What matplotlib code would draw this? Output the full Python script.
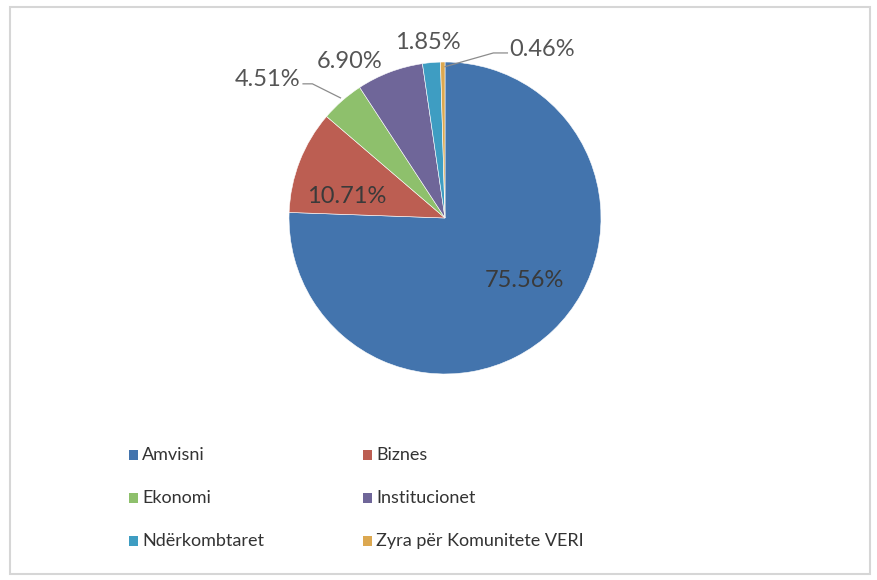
import matplotlib.pyplot as plt
from matplotlib.patches import Rectangle

plt.rcParams["font.family"] = ["Lato", "DejaVu Sans"]

categories = ["Amvisni", "Biznes", "Ekonomi", "Institucionet",
              "Ndërkombtaret", "Zyra për Komunitete VERI"]
shares = [75.56, 10.71, 4.51, 6.90, 1.85, 0.46]
colors = ["#4374AD", "#BC5E52", "#8EC06C", "#6F6699", "#3E9DC2", "#DCA850"]

# label placement (pie data coords), leader lines for two small slices
label_pos = [(0.51, -0.40), (-0.63, 0.135), (-1.14, 0.89),
             (-0.61, 1.006), (-0.11, 1.128), (0.62, 1.083)]
leaders = {2: [(-0.91, 0.86), (-0.85, 0.86), (-0.67, 0.77)],
           5: [(0.40, 1.058), (0.31, 1.058), (0.0, 0.97)]}

W, H = 877, 580
fig = plt.figure(figsize=(W / 100, H / 100), dpi=100)

# outer frame
fig.patches.append(Rectangle((10 / W, 6 / H), 860 / W, 567 / H,
                             transform=fig.transFigure, fill=False,
                             edgecolor="#d6d6d6", lw=1.5))

cx, cy, r = 445, 218, 156
ax = fig.add_axes([(cx - r) / W, (H - cy - r) / H, 2 * r / W, 2 * r / H])
ax.pie(shares, colors=colors, startangle=90, counterclock=False,
       wedgeprops=dict(edgecolor="white", linewidth=0.4))
ax.set_xlim(-1, 1)
ax.set_ylim(-1, 1)
ax.set_aspect("equal")
ax.axis("off")

for i, (val, (x, y)) in enumerate(zip(shares, label_pos)):
    col = "#3a3a3a" if i < 2 else "#555555"
    ax.text(x, y, f"{val:.2f}%", ha="center", va="center", fontsize=17,
            color=col, clip_on=False)
for i, pts in leaders.items():
    xs, ys = zip(*pts)
    ax.plot(xs, ys, color="#8c8c8c", lw=0.9, clip_on=False)

# legend laid out in two columns, row-wise like the original
col_x = [129, 363]
row_y = [455, 498, 541]
for i, (name, c) in enumerate(zip(categories, colors)):
    x = col_x[i % 2]
    y = row_y[i // 2]
    fig.patches.append(Rectangle((x / W, (H - y - 5) / H), 9 / W, 10 / H,
                                 transform=fig.transFigure, facecolor=c,
                                 edgecolor="none"))
    fig.text((x + 13) / W, (H - y) / H, name, ha="left", va="center",
             fontsize=13, color="#333333")

fig.savefig("out.png", dpi=100)
